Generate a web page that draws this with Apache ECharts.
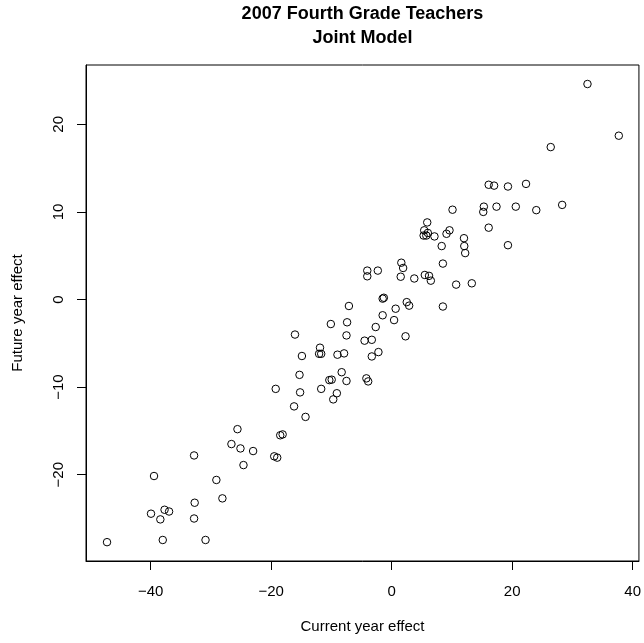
<!DOCTYPE html>
<html>
<head>
<meta charset="utf-8">
<script src="https://cdn.jsdelivr.net/npm/echarts@6/dist/echarts.min.js"></script>
<style>
  html, body { margin: 0; padding: 0; background: #fff; }
  #chart { width: 644px; height: 643px; }
</style>
</head>
<body>
<div id="chart"></div>
<script>
// Teacher effects: current-year estimate vs. the following year's estimate
const currentEffect = [
  32.5, 37.7, 26.4, 16.1, 17.0, 19.3, 22.3, 10.1, 15.3, 15.2,
  17.4, 20.6, 24.0, 28.3, 16.1, 19.3, 5.9, 5.4, 6.0, 5.3,
  5.75, 7.1, 9.6, 9.1, 12.0, 12.05, 12.2, 8.3, 8.5, 1.6,
  1.9, -4.05, -4.05, -2.3, 1.5, 3.75, 5.5, 6.2, 6.5, 10.7,
  13.3, -1.5, -1.3, 2.5, 2.9, 0.66, 8.5, -1.5, 0.4, 2.3,
  -7.1, -2.65, -10.1, -7.4, -7.5, -16.05, -4.5, -3.3, -11.9, -12.05,
  -11.7, -9.0, -7.9, -14.9, -3.3, -2.2, -15.3, -8.3, -10.35, -9.96,
  -7.5, -4.2, -3.9, -11.7, -15.2, -9.1, -9.7, -16.2, -14.3, -19.25,
  -25.6, -26.6, -25.1, -23.0, -24.6, -18.5, -18.1, -19.5, -19.0, -32.8,
  -39.45, -29.1, -28.1, -32.7, -39.95, -37.7, -36.95, -38.4, -32.8, -38.0,
  -30.9, -47.25
];
const futureEffect = [
  24.6, 18.7, 17.4, 13.1, 13.0, 12.9, 13.2, 10.25, 10.6, 10.0,
  10.6, 10.6, 10.2, 10.8, 8.2, 6.2, 8.8, 7.9, 7.6, 7.3,
  7.3, 7.2, 7.9, 7.5, 7.0, 6.1, 5.3, 6.1, 4.1, 4.2,
  3.6, 3.3, 2.65, 3.3, 2.6, 2.4, 2.8, 2.7, 2.15, 1.7,
  1.85, 0.1, 0.2, -0.3, -0.7, -1.05, -0.8, -1.8, -2.35, -4.2,
  -0.74, -3.14, -2.8, -2.6, -4.1, -4.0, -4.7, -4.6, -5.5, -6.2,
  -6.2, -6.3, -6.15, -6.45, -6.5, -6.0, -8.6, -8.3, -9.2, -9.15,
  -9.3, -9.0, -9.35, -10.2, -10.6, -10.7, -11.4, -12.2, -13.4, -10.2,
  -14.8, -16.5, -17.0, -17.3, -18.9, -15.5, -15.4, -17.9, -18.05, -17.8,
  -20.15, -20.6, -22.7, -23.2, -24.45, -24.0, -24.2, -25.1, -25.0, -27.45,
  -27.45, -27.7
];
const xTicks = [-40, -20, 0, 20, 40];
const yTicks = [-20, -10, 0, 10, 20];
const titleLines = ['2007 Fourth Grade Teachers', 'Joint Model'];
const xTitle = 'Current year effect';
const yTitle = 'Future year effect';

const points = currentEffect.map((x, i) => [x, futureEffect[i]]);
const minus = v => (v < 0 ? '\u2212' + Math.abs(v) : String(v));
const FONT = '"Liberation Sans", Arial, Helvetica, sans-serif';

const plot = { left: 86, right: 639, top: 65, bottom: 561 };
const midX = (plot.left + plot.right) / 2;
const midY = (plot.top + plot.bottom) / 2;

const axisCommon = {
  type: 'value',
  axisLine: { show: true, onZero: false, lineStyle: { color: '#000', width: 1 } },
  splitLine: { show: false }
};

const chart = echarts.init(document.getElementById('chart'), null, { renderer: 'canvas' });
chart.setOption({
  backgroundColor: '#fff',
  animation: false,
  grid: {
    left: plot.left, right: 644 - plot.right, top: plot.top, bottom: 643 - plot.bottom,
    show: true, borderColor: '#000', borderWidth: 1, backgroundColor: 'transparent'
  },
  xAxis: Object.assign({}, axisCommon, {
    min: -50.74, max: 41.04,
    axisTick: { show: true, length: 9, customValues: xTicks, lineStyle: { color: '#000', width: 1 } },
    axisLabel: {
      customValues: xTicks, margin: 23, color: '#000', fontSize: 15, fontFamily: FONT,
      formatter: minus
    }
  }),
  yAxis: Object.assign({}, axisCommon, {
    min: -29.85, max: 26.77,
    axisTick: { show: true, length: 9, customValues: yTicks, lineStyle: { color: '#000', width: 1 } },
    axisLabel: {
      customValues: yTicks, rotate: 90, margin: 20, color: '#000', fontSize: 15, fontFamily: FONT,
      formatter: minus
    }
  }),
  series: [{
    type: 'scatter',
    data: points,
    symbol: 'circle',
    symbolSize: 7.5,
    itemStyle: { color: 'transparent', borderColor: '#000', borderWidth: 1, opacity: 1 },
    emphasis: { disabled: true }
  }],
  graphic: [
    { type: 'text', x: midX, y: 14.5, style: { text: titleLines[0], font: 'bold 18px ' + FONT, fill: '#000', align: 'center', verticalAlign: 'middle' } },
    { type: 'text', x: midX, y: 38.5, style: { text: titleLines[1], font: 'bold 18px ' + FONT, fill: '#000', align: 'center', verticalAlign: 'middle' } },
    { type: 'text', x: midX, y: 627, style: { text: xTitle, font: '15px ' + FONT, fill: '#000', align: 'center', verticalAlign: 'middle' } },
    { type: 'text', x: 18, y: midY, rotation: Math.PI / 2, style: { text: yTitle, font: '15px ' + FONT, fill: '#000', align: 'center', verticalAlign: 'middle' } }
  ]
});
</script>
</body>
</html>
